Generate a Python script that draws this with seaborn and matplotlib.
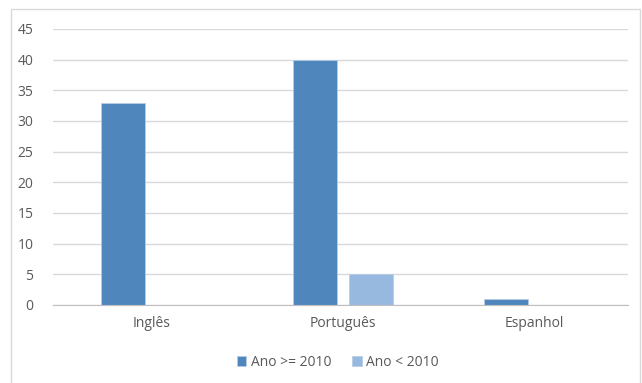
import numpy as np
import pandas as pd
import seaborn as sns
import matplotlib.pyplot as plt
from matplotlib.patches import Rectangle

# data
idiomas = ['Inglês', 'Português', 'Espanhol']
series = ['Ano >= 2010', 'Ano < 2010']
ano_recente = [33, 40, 1]
ano_antigo = [0, 5, 0]
cores = ['#4F87BD', '#98B9DF']

df = pd.DataFrame({
    'Idioma': idiomas * 2,
    'Serie': [series[0]] * 3 + [series[1]] * 3,
    'Valor': ano_recente + ano_antigo,
})

sns.set_style('white')
plt.rcParams['font.family'] = ['Open Sans', 'DejaVu Sans']

fig = plt.figure(figsize=(6.42, 3.83), dpi=100)
ax = fig.add_axes([53 / 642, 1 - 305 / 383, 575 / 642, 276 / 383])

sns.barplot(data=df, x='Idioma', y='Valor', hue='Serie', order=idiomas,
            hue_order=series, palette=cores, saturation=1, width=0.586,
            gap=0.215, edgecolor='#B8CCE4', linewidth=0.6, ax=ax, legend=True)

ax.set_ylim(0, 45)
ax.set_xlim(-0.512, 2.488)
ax.set_yticks(np.arange(0, 46, 5))
ax.grid(axis='y', color='#D9D9D9', linewidth=1)
ax.set_axisbelow(True)
for s in ['top', 'right', 'left']:
    ax.spines[s].set_visible(False)
ax.spines['bottom'].set_color('#BFBFBF')
ax.tick_params(axis='both', length=0, labelsize=10, colors='#595959', pad=8)
ax.tick_params(axis='y', pad=14)
ax.set_xlabel('')
ax.set_ylabel('')

leg = ax.legend(loc='upper center', bbox_to_anchor=(0.495, -0.135), ncol=2,
                frameon=False, fontsize=10, handlelength=0.7, handleheight=0.7,
                handletextpad=0.3, columnspacing=1.5)
for t in leg.get_texts():
    t.set_color('#595959')

fig.patches.append(Rectangle((11 / 642, -0.01), 629 / 642, 1 - 9 / 383 + 0.01,
                             transform=fig.transFigure, fill=False,
                             edgecolor='#D9D9D9', linewidth=1))

fig.savefig('out.png', dpi=100)
